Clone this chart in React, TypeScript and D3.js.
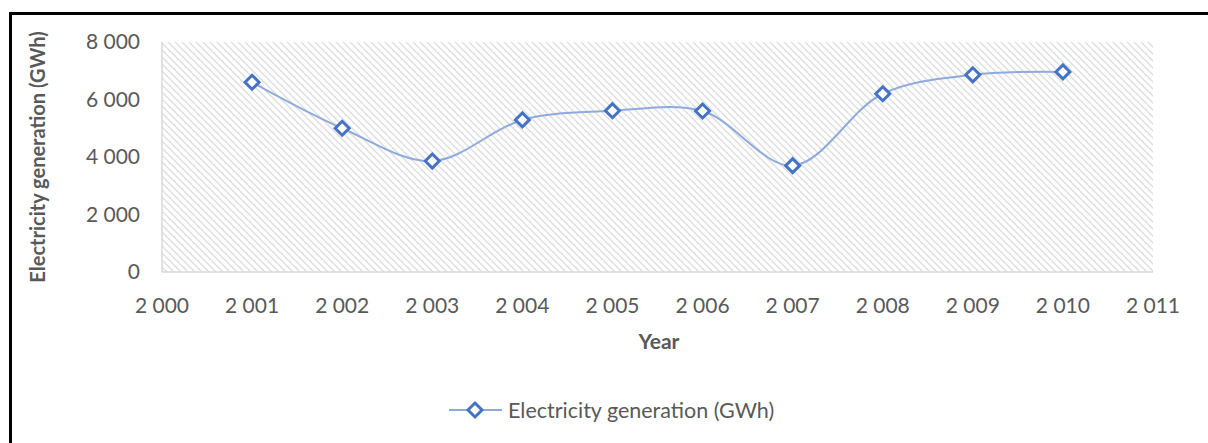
import React from 'react';
import * as d3 from 'd3';

const years = [2001, 2002, 2003, 2004, 2005, 2006, 2007, 2008, 2009, 2010];
const generation = [6600, 5000, 3860, 5290, 5610, 5600, 3700, 6200, 6860, 6960];
const xTicks = [2000, 2001, 2002, 2003, 2004, 2005, 2006, 2007, 2008, 2009, 2010, 2011];
const yTicks = [0, 2000, 4000, 6000, 8000];

const W = 1208;
const H = 443;
const plot = { left: 162, right: 1153, top: 42, bottom: 272 };

const fmt = (v: number) => {
    const s = String(v);
    return s.length > 3 ? s.slice(0, s.length - 3) + ' ' + s.slice(-3) : s;
};

export default function App() {
    const x = d3.scaleLinear().domain([2000, 2011]).range([plot.left, plot.right]);
    const y = d3.scaleLinear().domain([0, 8000]).range([plot.bottom, plot.top]);

    const pts = years.map((yr, i) => [yr, generation[i]] as [number, number]);
    const line = d3.line<[number, number]>()
        .x(d => x(d[0]))
        .y(d => y(d[1]))
        .curve(d3.curveCatmullRom.alpha(0.5));

    const diamond = (cx: number, cy: number, r: number) =>
        `M${cx},${cy - r}L${cx + r},${cy}L${cx},${cy + r}L${cx - r},${cy}Z`;

    const font = 'Lato, "Open Sans", sans-serif';
    const grey = '#595959';

    return (
        <svg width={W} height={H} style={{ position: 'absolute', left: 0, top: 0, background: '#fff' }}>
            <defs>
                <pattern id="hatch" patternUnits="userSpaceOnUse" width={7} height={7}>
                    <path d="M0,0L7,7M-1,6L1,8M6,-1L8,1" stroke="#dedede" strokeWidth={1.4} />
                </pattern>
            </defs>
            <rect x={10.5} y={13.5} width={W + 20} height={H + 20} fill="none" stroke="#000" strokeWidth={3} />

            <rect x={plot.left} y={plot.top} width={plot.right - plot.left} height={plot.bottom - plot.top}
                fill="url(#hatch)" />
            <line x1={plot.left} x2={plot.left} y1={plot.top} y2={plot.bottom} stroke="#d9d9d9" strokeWidth={1.5} />
            <line x1={plot.left} x2={plot.right} y1={plot.bottom} y2={plot.bottom} stroke="#d9d9d9" strokeWidth={1.5} />

            {yTicks.map(t => (
                <text key={t} x={140} y={y(t)} dy="0.35em" textAnchor="end" fontFamily={font} fontSize={21} fill={grey}>
                    {fmt(t)}
                </text>
            ))}
            {xTicks.map(t => (
                <text key={t} x={x(t)} y={306} dy="0.35em" textAnchor="middle" fontFamily={font} fontSize={21} fill={grey}>
                    {fmt(t)}
                </text>
            ))}

            <text x={659} y={342} dy="0.35em" textAnchor="middle" fontFamily={font} fontSize={21} fontWeight="bold" fill={grey}>
                Year
            </text>
            <text transform={`translate(38,${(plot.top + plot.bottom) / 2}) rotate(-90)`} dy="0.35em" textAnchor="middle"
                fontFamily={font} fontSize={20} fontWeight="bold" fill={grey}>
                Electricity generation (GWh)
            </text>

            <path d={line(pts) ?? ''} fill="none" stroke="#8faadc" strokeWidth={2} />
            {pts.map((d, i) => (
                <path key={i} d={diamond(x(d[0]), y(d[1]), 7)} fill="#fff" stroke="#4472c4" strokeWidth={3} />
            ))}

            <line x1={449} x2={502} y1={410} y2={410} stroke="#8faadc" strokeWidth={2} />
            <path d={diamond(475, 410, 7)} fill="#fff" stroke="#4472c4" strokeWidth={3} />
            <text x={508} y={410} dy="0.35em" fontFamily={font} fontSize={21.5} fill={grey}>
                Electricity generation (GWh)
            </text>
        </svg>
    );
}
